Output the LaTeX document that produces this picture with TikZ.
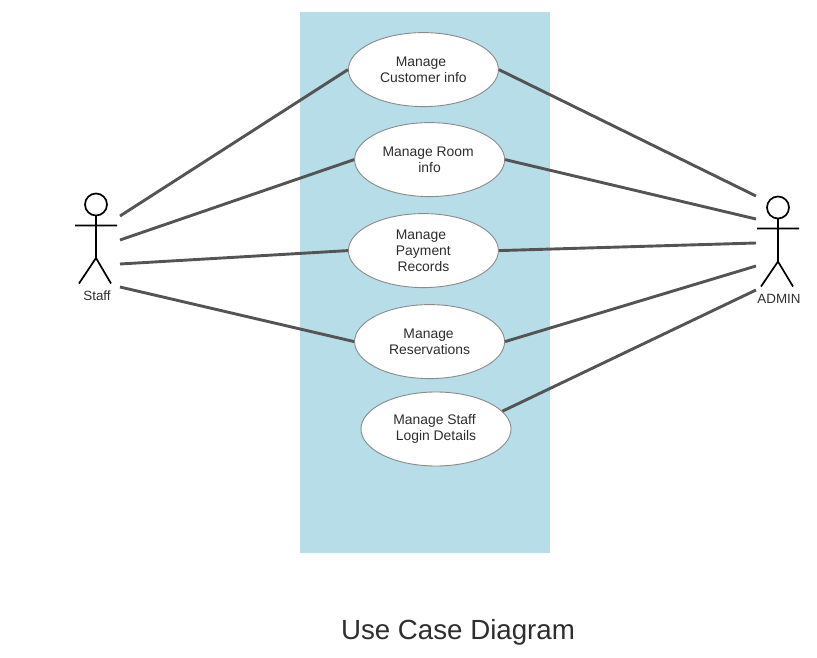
\documentclass[tikz,border=0pt]{standalone}
\usepackage{fontspec}
\setmainfont{Liberation Sans}
\usetikzlibrary{shapes.geometric}
\definecolor{panel}{HTML}{B6DDE8}
\definecolor{wire}{HTML}{545454}
\definecolor{rim}{HTML}{8A8A8A}
\definecolor{ink}{HTML}{2E2E2E}
\newcommand{\tail}[1]{\hspace*{#1pt}}
\tikzset{
  usecase/.style={ellipse,draw=rim,line width=0.9pt,fill=white,minimum width=150pt,minimum height=74pt,inner sep=0pt,align=center,text=ink,font=\fontsize{13.9}{16}\selectfont},
  wireline/.style={draw=wire,line width=2.9pt},
  figure/.style={draw=black,line width=1.7pt},
  actorname/.style={text=ink,inner sep=0pt,font=\fontsize{13.4}{16}\selectfont}
}
\begin{document}
\begin{tikzpicture}[x=1pt,y=-1pt]
\useasboundingbox (0,0) rectangle (817,658);
\fill[panel] (299.5,12) rectangle (549.5,553);

\node[usecase] (e1) at (423.4,69.6) {Manage\tail{5}\\Customer info};
\node[usecase] (e2) at (429.6,159.6) {Manage Room\tail{3}\\info};
\node[usecase] (e3) at (423.4,250.6) {Manage\tail{5}\\Payment\tail{4}\\Records};
\node[usecase] (e4) at (429.6,341.6) {Manage\tail{2}\\Reservations};
\node[usecase] (e5) at (436,429) {Manage Staff\tail{3}\\Login Details};

% Staff actor
\draw[figure] (96,204.5) circle (11);
\draw[figure] (96,215.5) -- (96,258) (75,225.5) -- (117,225.5) (79,283.5) -- (96,258) -- (111,283.5);
\node[actorname] (staff) at (97,295.5) {Staff};

% Admin actor
\draw[figure] (778,207.5) circle (11);
\draw[figure] (778,218.5) -- (778,261.5) (757,228.5) -- (799,228.5) (761,286.5) -- (778,261.5) -- (793,286.5);
\node[actorname] (admin) at (779,298.5) {ADMIN};

\coordinate (s1) at (120,216);
\coordinate (s2) at (120,240);
\coordinate (s3) at (120,264);
\coordinate (s4) at (120,287);
\coordinate (a1) at (756,196);
\coordinate (a2) at (756,219);
\coordinate (a3) at (756,243);
\coordinate (a4) at (756,266);
\coordinate (a5) at (756,290);

\draw[wireline] (s1) -- (e1.west);
\draw[wireline] (s2) -- (e2.west);
\draw[wireline] (s3) -- (e3.west);
\draw[wireline] (s4) -- (e4.west);
\draw[wireline] (e1.east) -- (a1);
\draw[wireline] (e2.east) -- (a2);
\draw[wireline] (e3.east) -- (a3);
\draw[wireline] (e4.east) -- (a4);
\draw[wireline] (e5.15) -- (a5);

\node[text=ink,inner sep=0pt,font=\fontsize{27.7}{32}\selectfont] (title) at (458,632.5) {Use Case Diagram};
\end{tikzpicture}
\end{document}
